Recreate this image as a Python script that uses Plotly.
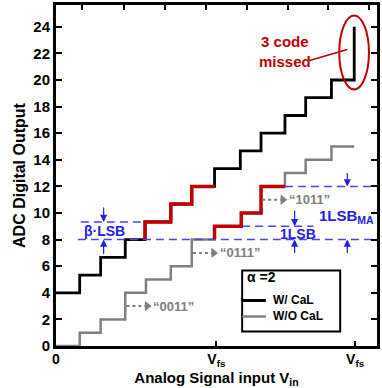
import plotly.graph_objects as go

# ---------------- data ----------------
cal_steps = [0, 1.03, 1.94, 3.01, 3.87, 4.99, 5.90, 6.89, 8.01, 8.91, 9.95, 10.85, 11.97, 12.96]
cal_levels = [4, 5.33, 6.67, 8, 9.33, 10.67, 12, 13.33, 14.67, 16, 17.33, 18.67, 20, 24]

nocal_steps = [0, 1.03, 1.94, 3.01, 3.91, 4.99, 5.90, 6.89, 8.05, 8.91, 9.95, 10.85, 11.97, 12.96]
nocal_levels = [0, 1, 2, 4, 5, 6, 8, 9, 10, 12, 13, 14, 15, 15]

# highlighted (red) portions (vertical-first step segments)
cal_red_x = [3.87, 4.99, 5.90, 6.89]
cal_red_y = [8, 9.33, 10.67, 12]
nocal_red_x = [6.89, 8.05, 8.91, 9.95]
nocal_red_y = [8, 9, 10, 12]

missing_codes = ["“0011”", "“0111”", "“1011”"]
missing_y = [3, 7, 11]
missing_x = [3.01, 5.90, 8.91]

x_tick_vals = [0, 6.97, 13.0]
x_tick_text = ["0", "V<sub>fs</sub>", "V<sub>fs</sub>"]
top_tick_vals = [1.15, 2.94, 4.74, 6.53, 8.32, 10.07, 11.82, 13.59]
y_tick_vals = list(range(0, 25, 2))

X_MAX = 13.95
Y_MAX = 25.64

RED = "#C00000"
GRAY = "#808080"
BLUE = "#4646F5"
BLUE_T = "#2222E6"
FONT = "Liberation Sans, Arial, sans-serif"

fig = go.Figure()

# without calibration (gray)
fig.add_trace(go.Scatter(x=nocal_steps, y=nocal_levels, mode="lines", line_shape="hv",
                         line=dict(color=GRAY, width=2.5), name="W/O CaL", showlegend=False))
fig.add_trace(go.Scatter(x=nocal_red_x, y=nocal_red_y, mode="lines", line_shape="vh",
                         line=dict(color=RED, width=3.5), showlegend=False))
# with calibration (black)
fig.add_trace(go.Scatter(x=cal_steps, y=cal_levels, mode="lines", line_shape="hv",
                         line=dict(color="black", width=2.8), name="W/ CaL", showlegend=False))
fig.add_trace(go.Scatter(x=cal_red_x, y=cal_red_y, mode="lines", line_shape="vh",
                         line=dict(color=RED, width=3.5), showlegend=False))

# blue dashed reference lines
dash_lines = [
    ([0.95, X_MAX], [8, 8]),
    ([1.08, 3.87], [9.33, 9.33]),
    ([9.95, X_MAX], [12, 12]),
    ([8.09, 11.19], [9, 9]),
]
for xs, ys in dash_lines:
    fig.add_trace(go.Scatter(x=xs, y=ys, mode="lines",
                             line=dict(color=BLUE, width=1.5, dash="8px,5px"),
                             showlegend=False, hoverinfo="skip"))

# missing-code arrows (gray dashed)
for mx, my, txt in zip(missing_x, missing_y, missing_codes):
    fig.add_trace(go.Scatter(x=[mx + 0.05, mx + 0.95], y=[my, my], mode="lines",
                             line=dict(color=GRAY, width=2, dash="3px,3px"),
                             showlegend=False, hoverinfo="skip"))
    fig.add_trace(go.Scatter(x=[mx + 0.95], y=[my], mode="markers",
                             marker=dict(symbol="triangle-right", size=9, color=GRAY),
                             showlegend=False, hoverinfo="skip"))
    fig.add_annotation(x=mx + 1.12, y=my, text="<b>" + txt + "</b>", showarrow=False,
                       xanchor="left", font=dict(family=FONT, size=13, color=GRAY))

# blue arrows
def blue_arrow(x, y, ay):
    fig.add_annotation(x=x, y=y, ax=0, ay=ay, text="", showarrow=True, arrowhead=2,
                       arrowsize=1.2, arrowwidth=1.2, arrowcolor=BLUE_T)

blue_arrow(2.07, 9.33, -16)
blue_arrow(2.07, 8, 16)
blue_arrow(10.37, 9, -17)
blue_arrow(10.37, 8, 15)
blue_arrow(12.66, 12, -15)
blue_arrow(12.66, 8, 15)

fig.add_annotation(x=2.11, y=8.67, text="<b>β·LSB</b>", showarrow=False,
                   font=dict(family=FONT, size=14, color=BLUE_T))
fig.add_annotation(x=10.5, y=8.45, text="<b>1LSB</b>", showarrow=False,
                   font=dict(family=FONT, size=14, color=BLUE_T))
fig.add_annotation(x=13.9, y=9.75, text="<b>1LSB<sub>MA</sub></b>", showarrow=False,
                   xanchor="right", font=dict(family=FONT, size=15, color=BLUE_T))

# missed-code ellipse and label
fig.add_shape(type="circle", xref="x", yref="y", x0=12.31, x1=13.60, y0=19.29, y1=24.85,
              line=dict(color=RED, width=2))
fig.add_trace(go.Scatter(x=[11.02, 12.66], y=[21.47, 22.29], mode="lines",
                         line=dict(color=RED, width=1.5), showlegend=False, hoverinfo="skip"))
fig.add_annotation(x=9.94, y=22.15, text="<b>3 code<br>missed</b>", showarrow=False,
                   font=dict(family=FONT, size=15, color=RED))

# legend box
fig.add_shape(type="rect", xref="x", yref="y", x0=8.09, x1=12.35, y0=1.09, y1=5.68,
              line=dict(color="black", width=2), fillcolor="white", layer="above")
fig.add_annotation(x=8.2, y=5.2, text="<b>α =2</b>", showarrow=False, xanchor="left",
                   font=dict(family=FONT, size=14, color="black"))
fig.add_shape(type="line", xref="x", yref="y", x0=8.09, x1=9.12, y0=3.42, y1=3.42,
              line=dict(color="black", width=3), layer="above")
fig.add_shape(type="line", xref="x", yref="y", x0=8.09, x1=9.12, y0=2.22, y1=2.22,
              line=dict(color=GRAY, width=2.5), layer="above")
fig.add_annotation(x=9.35, y=3.45, text="<b>W/ CaL</b>", showarrow=False, xanchor="left",
                   font=dict(family=FONT, size=12, color="black"))
fig.add_annotation(x=9.35, y=2.25, text="<b>W/O CaL</b>", showarrow=False, xanchor="left",
                   font=dict(family=FONT, size=12, color="black"))

# invisible trace for the top axis
fig.add_trace(go.Scatter(x=[0, X_MAX], y=[0, 0], xaxis="x2", mode="lines",
                         line=dict(width=0), showlegend=False, hoverinfo="skip"))

fig.update_layout(
    width=382, height=388,
    margin=dict(l=56, r=2, t=5, b=42),
    plot_bgcolor="white", paper_bgcolor="white",
    font=dict(family=FONT, size=14, color="black"),
    showlegend=False,
    xaxis=dict(range=[0, X_MAX], tickvals=x_tick_vals,
               ticktext=[f"<b>{t}</b>" for t in x_tick_text],
               ticks="inside", ticklen=5, tickwidth=2, tickcolor="black",
               ticklabelstandoff=-2,
               showline=True, linewidth=3, linecolor="black", mirror=True,
               showgrid=False, zeroline=False,
               tickfont=dict(family=FONT, size=14, color="black"),
               title=dict(text="<b>Analog Signal input V<sub>in</sub></b>", standoff=7,
                          font=dict(family=FONT, size=15))),
    xaxis2=dict(range=[0, X_MAX], overlaying="x", side="top", tickvals=top_tick_vals,
                ticks="inside", ticklen=5, tickwidth=2, tickcolor="black",
                showticklabels=False, showline=False, showgrid=False, zeroline=False),
    yaxis=dict(range=[0, Y_MAX], tickvals=y_tick_vals,
               ticktext=[f"<b>{v}</b>" for v in y_tick_vals],
               ticks="inside", ticklen=6, tickwidth=2, tickcolor="black",
               showline=True, linewidth=3, linecolor="black", mirror="ticks",
               showgrid=False, zeroline=False,
               tickfont=dict(family=FONT, size=15, color="black"),
               title=dict(text="<b>ADC Digital Output</b>", standoff=4,
                          font=dict(family=FONT, size=16))),
)

fig.write_html("out.html", config={"displayModeBar": False},
               post_script="document.body.style.margin='0';document.body.style.overflow='hidden';")
